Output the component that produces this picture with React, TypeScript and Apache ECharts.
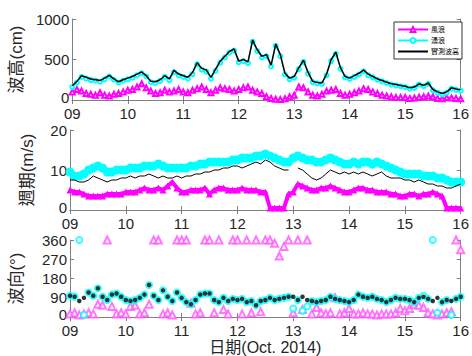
import React, { useEffect, useRef } from "react";
import * as echarts from "echarts";

// time step: 2 hours, from Oct 9 00:00 to Oct 16 00:00 (85 samples)
const DAY_TICKS = [9, 10, 11, 12, 13, 14, 15, 16];

const H_MEAS = [
  175, 230, 300, 280, 260, 250, 240, 270, 305, 260, 225, 250,
  270, 290, 320, 345, 300, 230, 225, 250, 300, 260, 365, 320,
  300, 280, 340, 460, 390, 370, 280, 380, 480, 540, 600, 630,
  480, 500, 470, 740, 620, 540, 560, 430, 690, 560, 330, 270,
  290, 400, 490, 340, 230, 215, 210, 320, 500, 590, 400, 290,
  270, 300, 330, 370, 320, 290, 260, 240, 220, 200, 190, 180,
  170, 150, 160, 200, 180, 210, 130, 100, 80, 100, 150, 135,
  125,
];
const H_SWELL = [
  160, 215, 285, 265, 245, 240, 225, 255, 290, 250, 215, 240,
  255, 275, 305, 330, 290, 220, 210, 235, 285, 245, 345, 305,
  285, 265, 320, 440, 375, 350, 265, 360, 460, 525, 585, 610,
  465, 480, 455, 720, 605, 525, 540, 415, 670, 540, 315, 255,
  275, 380, 470, 325, 220, 205, 200, 305, 480, 570, 385, 280,
  260, 285, 315, 355, 305, 280, 250, 230, 210, 190, 180, 170,
  160, 140, 150, 190, 170, 200, 120, 90, 70, 90, 140, 125,
  115,
];
const H_WIND = [
  100, 130, 110, 80, 70, 60, 90, 60, 50, 70, 80, 100,
  120, 130, 160, 200, 150, 110, 80, 90, 120, 100, 110, 130,
  100, 90, 120, 140, 160, 130, 90, 120, 150, 140, 130, 110,
  130, 150, 160, 120, 100, 80, 40, 20, 10, 5, 15, 40,
  60, 160, 150, 100, 60, 50, 70, 110, 120, 130, 80, 60,
  70, 90, 110, 140, 130, 100, 80, 60, 50, 40, 30, 30,
  30, 20, 25, 35, 40, 50, 40, 20, 15, 30, 25, 20,
  15,
];

const T_SWELL = [
  9.5, 8.5, 8.5, 9, 10, 10.5, 11, 10.5, 9.5, 9.5, 10, 10,
  10, 10.5, 10.5, 10.5, 11, 11, 11, 11.5, 11, 10.5, 10.5, 10.5,
  10.5, 10.5, 11, 11, 11.5, 11.5, 12, 12, 12, 12, 12, 12.5,
  12.5, 13, 13, 13, 13.5, 13.5, 14, 13.5, 13, 12.5, 12, 12,
  13, 13.5, 13, 12.5, 12.5, 12, 12, 12.5, 13, 12.5, 12, 11.5,
  11.5, 12, 11.5, 12, 12, 11.5, 12, 11.5, 11, 10.5, 10, 9.5,
  9, 9, 9, 9, 8.5, 8.5, 8.5, 8, 8, 7.5, 7, 7,
  7,
];
const T_MEAS = [
  7.5, 7.5, 7, 7, 7.5, 8.5, 8, 7.5, 7, 7.5, 7.5, 8,
  8, 8.5, 8, 8.5, 8.5, 9, 8.5, 8, 8.5, 8, 8, 8.5,
  8, 8.5, 8.5, 9, 9, 9.5, 9.5, 10, 10, 10.5, 10.5, 11,
  11, 10.5, 11, 11.5, 12, 11.5, 12.5, 12, 11, 10.5, 10, 10,
  null, 10.5, 10, 9, 8, 7.5, 8, 9, 10, 9.5, 9, 9.5,
  9, 9.5, 9, 9.5, 9, 8.5, 9, 9.5, 8.5, 8, 8, 8,
  7.5, 7.5, 7, 7.5, 7, 6.5, 6.5, 6, 6, 5.5, 5.5, 6,
  6.5,
];
const T_WIND = [
  5, 4.5, 4.5, 4, 3.5, 3.5, 3.5, 3.5, 4, 4, 4, 4,
  4.5, 4.5, 4.5, 5, 5.5, 5, 5, 5.5, 5, 6, 7, 5.5,
  4.5, 4.5, 5, 5, 5, 5.5, 4, 5, 5.5, 5.5, 5, 5,
  5, 5.5, 5, 5, 5, 4.5, 4.5, 0.5, 0.5, 0.5, 0.5, 4,
  4.5, 6.5, 6, 5.5, 5, 5, 5.5, 5.5, 6, 5.5, 5, 4.5,
  4.5, 5, 5.5, 5.5, 5, 5, 4.5, 4.5, 4.5, 4, 4, 3.5,
  3.5, 4, 4, 3.5, 4, 4, 4.5, 4, 3.5, 0.5, 0.5, 0.5,
  0.5,
];

const D_MEAS = [
  100, 95, 75, 90, 115, 100, 135, 95, 80, 105, 110, 95,
  80, 75, 80, 90, 105, 150, 100, 80, 125, 95, 75, 115,
  90, 70, 60, 80, 105, 110, 110, 80, 70, 90, 75, 85,
  80, 85, 70, 75, 55, 75, 80, 90, 80, 85, 90, 95,
  95, 80, 95, 80, 75, 70, 75, 80, 95, 85, 80, 75,
  70, 80, 105, 95, 90, 95, 85, 80, 70, 80, 90, 85,
  85, 80, 70, 90, 95, 85, 75, 90, 70, 80, 75, 85,
  95,
];
const D_SWELL = [
  100, 95, 360, 10, 115, 100, 135, 95, 80, 105, 110, 95,
  80, 75, 80, 90, 105, 150, 100, 80, 125, 95, 75, 115,
  90, 70, 60, 80, 105, 110, 110, 80, 70, 90, 75, 85,
  80, 85, 70, 75, 55, 75, 80, 90, 80, 85, 90, 95,
  40, 80, 30, 50, 75, 70, 75, 80, 95, 85, 80, 75,
  70, 80, 105, 95, 90, 95, 85, 80, 70, 80, 90, 85,
  85, 80, 70, 90, 100, 85, 360, 20, 70, 80, 10, 85,
  95,
];
const D_WIND = [
  15, 20, 10, 15, 20, 15, 60, 55, 360, 50, 15, 20,
  15, 50, 55, 15, 20, 60, 360, 360, 15, 20, 10, 360,
  360, 360, 65, 15, 20, 360, 360, 20, 360, 35, 15, 360,
  360, 15, 360, 20, 360, 25, 360, 360, 345, 285, 330, 360,
  20, 360, 35, 360, 15, 45, 20, 15, 20, 90, 15, 20,
  40, 15, 15, 20, 15, 15, 10, 15, 15, 15, 20, 40,
  30, 40, 60, 55, 45, 20, 15, 10, 15, 20, 25, 360,
  315,
];

const LEGEND_NAMES = ["風浪", "湧浪", "實測波高"];

const FONT = "'Liberation Sans', Arial, 'Noto Sans CJK TC', sans-serif";
const AXIS_GRAY = "#808080";
const TEXT = "#262626";

const withTime = (vals: (number | null)[]) =>
  vals.map((v, i) => [9 + i / 12, v]);

export default function App() {
  const ref = useRef<HTMLDivElement>(null);

  useEffect(() => {
    if (!ref.current) return;
    const chart = echarts.init(ref.current, undefined, { renderer: "svg" });

    const grids = [
      { left: 70, right: 10, top: 19, height: 81 },
      { left: 70, right: 10, top: 130, height: 80 },
      { left: 70, right: 10, top: 240, height: 80 },
    ];

    const xBottom = (gi: number, name?: string) => ({
      type: "value",
      gridIndex: gi,
      min: DAY_TICKS[0],
      max: DAY_TICKS[DAY_TICKS.length - 1],
      interval: 1,
      position: "bottom",
      name: name || "",
      nameLocation: "middle",
      nameGap: 21,
      nameTextStyle: { fontFamily: FONT, fontSize: 16, color: TEXT, verticalAlign: "top" },
      axisLine: { show: true, lineStyle: { color: AXIS_GRAY, width: 1 } },
      axisTick: { show: true, inside: true, length: 4, lineStyle: { color: AXIS_GRAY } },
      axisLabel: {
        show: true,
        margin: 6,
        fontFamily: FONT,
        fontSize: 15,
        color: TEXT,
        formatter: (v: number) => (v < 10 ? "0" + v : String(v)),
      },
      splitLine: { show: false },
    });
    const xTop = (gi: number) => ({
      type: "value",
      gridIndex: gi,
      min: DAY_TICKS[0],
      max: DAY_TICKS[DAY_TICKS.length - 1],
      interval: 1,
      position: "top",
      axisLine: { show: true, lineStyle: { color: AXIS_GRAY, width: 1 } },
      axisTick: { show: true, inside: true, length: 4, lineStyle: { color: AXIS_GRAY } },
      axisLabel: { show: false },
      splitLine: { show: false },
    });
    const yLeft = (gi: number, min: number, max: number, interval: number, name: string, gap: number) => ({
      type: "value",
      gridIndex: gi,
      min,
      max,
      interval,
      position: "left",
      name,
      nameLocation: "middle",
      nameGap: gap,
      nameRotate: 90,
      nameTextStyle: { fontFamily: FONT, fontSize: 17, color: TEXT },
      axisLine: { show: true, lineStyle: { color: AXIS_GRAY, width: 1 } },
      axisTick: { show: true, inside: true, length: 4, lineStyle: { color: AXIS_GRAY } },
      axisLabel: {
        show: true,
        margin: 3,
        fontFamily: FONT,
        fontSize: 15,
        color: TEXT,
        formatter: (v: number) => (v === 0 ? "{z|0}" : String(v)),
        rich: { z: { fontFamily: FONT, fontSize: 15, color: TEXT, padding: [0, 0, 5, 0] } },
      },
      splitLine: { show: false },
    });
    const yRight = (gi: number, min: number, max: number, interval: number) => ({
      type: "value",
      gridIndex: gi,
      min,
      max,
      interval,
      position: "right",
      axisLine: { show: true, lineStyle: { color: AXIS_GRAY, width: 1 } },
      axisTick: { show: true, inside: true, length: 4, lineStyle: { color: AXIS_GRAY } },
      axisLabel: { show: false },
      splitLine: { show: false },
    });

    const option: any = {
      animation: false,
      backgroundColor: "#ffffff",
      grid: grids,
      legend: {
        data: [
          { name: LEGEND_NAMES[0], itemStyle: { color: "#ff00ff" } },
          { name: LEGEND_NAMES[1] },
          { name: LEGEND_NAMES[2], itemStyle: { opacity: 0 } },
        ],
        selectedMode: false,
        orient: "vertical",
        left: 394,
        top: 22,
        itemWidth: 30,
        itemHeight: 6,
        itemGap: 4,
        padding: [4, 3, 4, 3],
        borderColor: "#000",
        borderWidth: 0.8,
        backgroundColor: "#fff",
        textStyle: { fontFamily: FONT, fontSize: 7, color: "#000", padding: [0, 0, 0, -2] },
      },
      xAxis: [
        xBottom(0),
        xBottom(1),
        xBottom(2, "日期(Oct. 2014)"),
        xTop(0),
        xTop(1),
        xTop(2),
      ],
      yAxis: [
        yLeft(0, 0, 1000, 500, "波高(cm)", 45),
        yLeft(1, 0, 20, 10, "週期(m/s)", 34),
        yLeft(2, 0, 360, 90, "波向(°)", 45),
        yRight(0, 0, 1000, 500),
        yRight(1, 0, 20, 10),
        yRight(2, 0, 360, 90),
      ],
      series: [
        // panel 1: wave height
        {
          name: "風浪",
          type: "line",
          xAxisIndex: 0,
          yAxisIndex: 0,
          z: 2,
          data: withTime(H_WIND),
          symbol: "emptyTriangle",
          symbolSize: 5,
          lineStyle: { color: "#ff00ff", width: 1 },
          itemStyle: { color: "#ff00ff", borderColor: "#ff00ff" },
        },
        {
          name: "湧浪",
          type: "line",
          xAxisIndex: 0,
          yAxisIndex: 0,
          z: 2,
          data: withTime(H_SWELL),
          symbol: "emptyCircle",
          symbolSize: 4,
          lineStyle: { color: "#00ffff", width: 1 },
          itemStyle: { color: "#00ffff", borderColor: "#00ffff" },
        },
        {
          name: "實測波高",
          type: "line",
          xAxisIndex: 0,
          yAxisIndex: 0,
          z: 6,
          data: withTime(H_MEAS),
          symbol: "none",
          lineStyle: { color: "#000000", width: 1.5 },
          itemStyle: { color: "#000000" },
        },
        // panel 2: period
        {
          name: "風浪週期",
          type: "line",
          xAxisIndex: 1,
          yAxisIndex: 1,
          data: withTime(T_WIND),
          symbol: "triangle",
          symbolSize: 7,
          lineStyle: { color: "#ff00ff", width: 4 },
          itemStyle: { color: "#ff00ff" },
        },
        {
          name: "湧浪週期",
          type: "line",
          xAxisIndex: 1,
          yAxisIndex: 1,
          data: withTime(T_SWELL),
          symbol: "circle",
          symbolSize: 9,
          lineStyle: { color: "#00ffff", width: 5 },
          itemStyle: { color: "#00ffff" },
        },
        {
          name: "實測週期",
          type: "line",
          xAxisIndex: 1,
          yAxisIndex: 1,
          z: 6,
          data: withTime(T_MEAS),
          symbol: "none",
          connectNulls: false,
          lineStyle: { color: "#000000", width: 1 },
          itemStyle: { color: "#000000" },
        },
        // panel 3: direction
        {
          name: "風浪波向",
          type: "scatter",
          xAxisIndex: 2,
          yAxisIndex: 2,
          data: withTime(D_WIND),
          symbol: "emptyTriangle",
          symbolSize: 7,
          itemStyle: { color: "#ff55ff", borderColor: "#ff55ff", borderWidth: 1 },
        },
        {
          name: "湧浪波向",
          type: "scatter",
          xAxisIndex: 2,
          yAxisIndex: 2,
          data: withTime(D_SWELL),
          symbol: "emptyCircle",
          symbolSize: 6,
          itemStyle: { color: "#00ffff", borderColor: "#00ffff", borderWidth: 1.2 },
        },
        {
          name: "實測波向",
          type: "scatter",
          xAxisIndex: 2,
          yAxisIndex: 2,
          z: 6,
          data: withTime(D_MEAS),
          symbol: "circle",
          symbolSize: 4.5,
          itemStyle: { color: "#000000" },
        },
      ],
    };

    chart.setOption(option);
    return () => chart.dispose();
  }, []);

  return (
    <div
      ref={ref}
      style={{ position: "fixed", left: 0, top: 0, width: 472, height: 356, background: "#fff" }}
    />
  );
}
